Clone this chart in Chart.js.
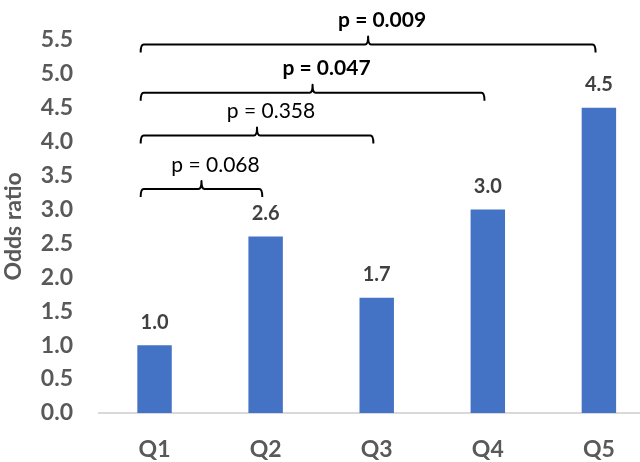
<!DOCTYPE html>
<html>
<head>
<meta charset="utf-8">
<script src="https://cdn.jsdelivr.net/npm/chart.js@4.4.1/dist/chart.umd.min.js"></script>
<style>
html,body{margin:0;padding:0;background:#fff;overflow:hidden;}
canvas{display:block;}
</style>
</head>
<body>
<canvas id="c" width="640" height="462"></canvas>
<script>
const categories = ['Q1', 'Q2', 'Q3', 'Q4', 'Q5'];
const oddsRatios = [1.0, 2.6, 1.7, 3.0, 4.5];
const yTicks = [0.0, 0.5, 1.0, 1.5, 2.0, 2.5, 3.0, 3.5, 4.0, 4.5, 5.0, 5.5];

// comparison brackets (category indices, height in odds-ratio units)
const bracketFrom = [0, 0, 0, 0];
const bracketTo = [1, 2, 3, 4];
const bracketLevel = [3.30, 4.09, 4.72, 5.43];
const bracketLabels = ['p = 0.068', 'p = 0.358', 'p = 0.047', 'p = 0.009'];
const bracketBold = [false, false, true, true];

const FONT = 'Lato, "Open Sans", sans-serif';

const annotate = {
  id: 'annotate',
  afterDatasetsDraw(chart) {
    const { ctx } = chart;
    const xs = chart.scales.x, ys = chart.scales.y;
    ctx.save();
    ctx.fillStyle = '#404040';
    ctx.font = 'bold 20px ' + FONT;
    ctx.textAlign = 'center';
    ctx.textBaseline = 'middle';
    chart.getDatasetMeta(0).data.forEach((bar, i) => {
      ctx.fillText(oddsRatios[i].toFixed(1), bar.x, bar.y - 23);
    });
    const step = xs.getPixelForValue(1) - xs.getPixelForValue(0);
    ctx.strokeStyle = '#000';
    ctx.lineWidth = 2;
    ctx.lineJoin = 'round';
    bracketFrom.forEach((f, i) => {
      const x0 = xs.getPixelForValue(f) - 0.125 * step;
      const x1 = xs.getPixelForValue(bracketTo[i]) - 0.03 * step;
      const xm = (x0 + x1) / 2;
      const yy = ys.getPixelForValue(bracketLevel[i]);
      ctx.beginPath();
      ctx.moveTo(x0, yy + 8);
      ctx.quadraticCurveTo(x0, yy, x0 + 3, yy);
      ctx.lineTo(xm - 3, yy);
      ctx.quadraticCurveTo(xm, yy, xm, yy - 8);
      ctx.quadraticCurveTo(xm, yy, xm + 3, yy);
      ctx.lineTo(x1 - 3, yy);
      ctx.quadraticCurveTo(x1, yy, x1, yy + 8);
      ctx.stroke();
      ctx.fillStyle = '#000';
      ctx.font = (bracketBold[i] ? 'bold ' : '') + '21px ' + FONT;
      ctx.fillText(bracketLabels[i], xm + 14, yy - 24);
    });
    ctx.restore();
  }
};

new Chart(document.getElementById('c'), {
  type: 'bar',
  data: {
    datasets: [{
      data: oddsRatios.map((v, i) => ({ x: i, y: v })),
      backgroundColor: '#4472C4',
      borderWidth: 0,
      barPercentage: 0.31,
      categoryPercentage: 1.0
    }]
  },
  options: {
    responsive: false,
    animation: false,
    layout: { padding: { top: 30, right: 0, bottom: 0, left: 0 } },
    plugins: { legend: { display: false }, tooltip: { enabled: false } },
    scales: {
      x: {
        type: 'linear',
        min: -0.5,
        max: 4.37,
        offset: false,
        afterBuildTicks(axis) { axis.ticks = categories.map((c, i) => ({ value: i })); },
        afterFit(axis) { axis.height = 49; },
        grid: { display: false, drawTicks: false },
        border: { display: true, color: '#d9d9d9', width: 2 },
        ticks: {
          color: '#595959',
          font: { family: FONT, size: 23, weight: 'bold' },
          padding: 23,
          maxRotation: 0,
          autoSkip: false,
          callback: v => categories[v]
        }
      },
      y: {
        min: 0,
        max: 5.5,
        afterBuildTicks(axis) { axis.ticks = yTicks.map(v => ({ value: v })); },
        afterFit(axis) { axis.width = 99; },
        grid: { display: false, drawTicks: false },
        border: { display: false },
        ticks: {
          color: '#595959',
          font: { family: FONT, size: 23, weight: 'bold' },
          padding: 26,
          callback: v => Number(v).toFixed(1)
        },
        title: {
          display: true,
          text: 'Odds ratio',
          color: '#595959',
          font: { family: FONT, size: 23, weight: 'bold' },
          padding: { top: 0, bottom: 4 }
        }
      }
    }
  },
  plugins: [annotate]
});
</script>
</body>
</html>
